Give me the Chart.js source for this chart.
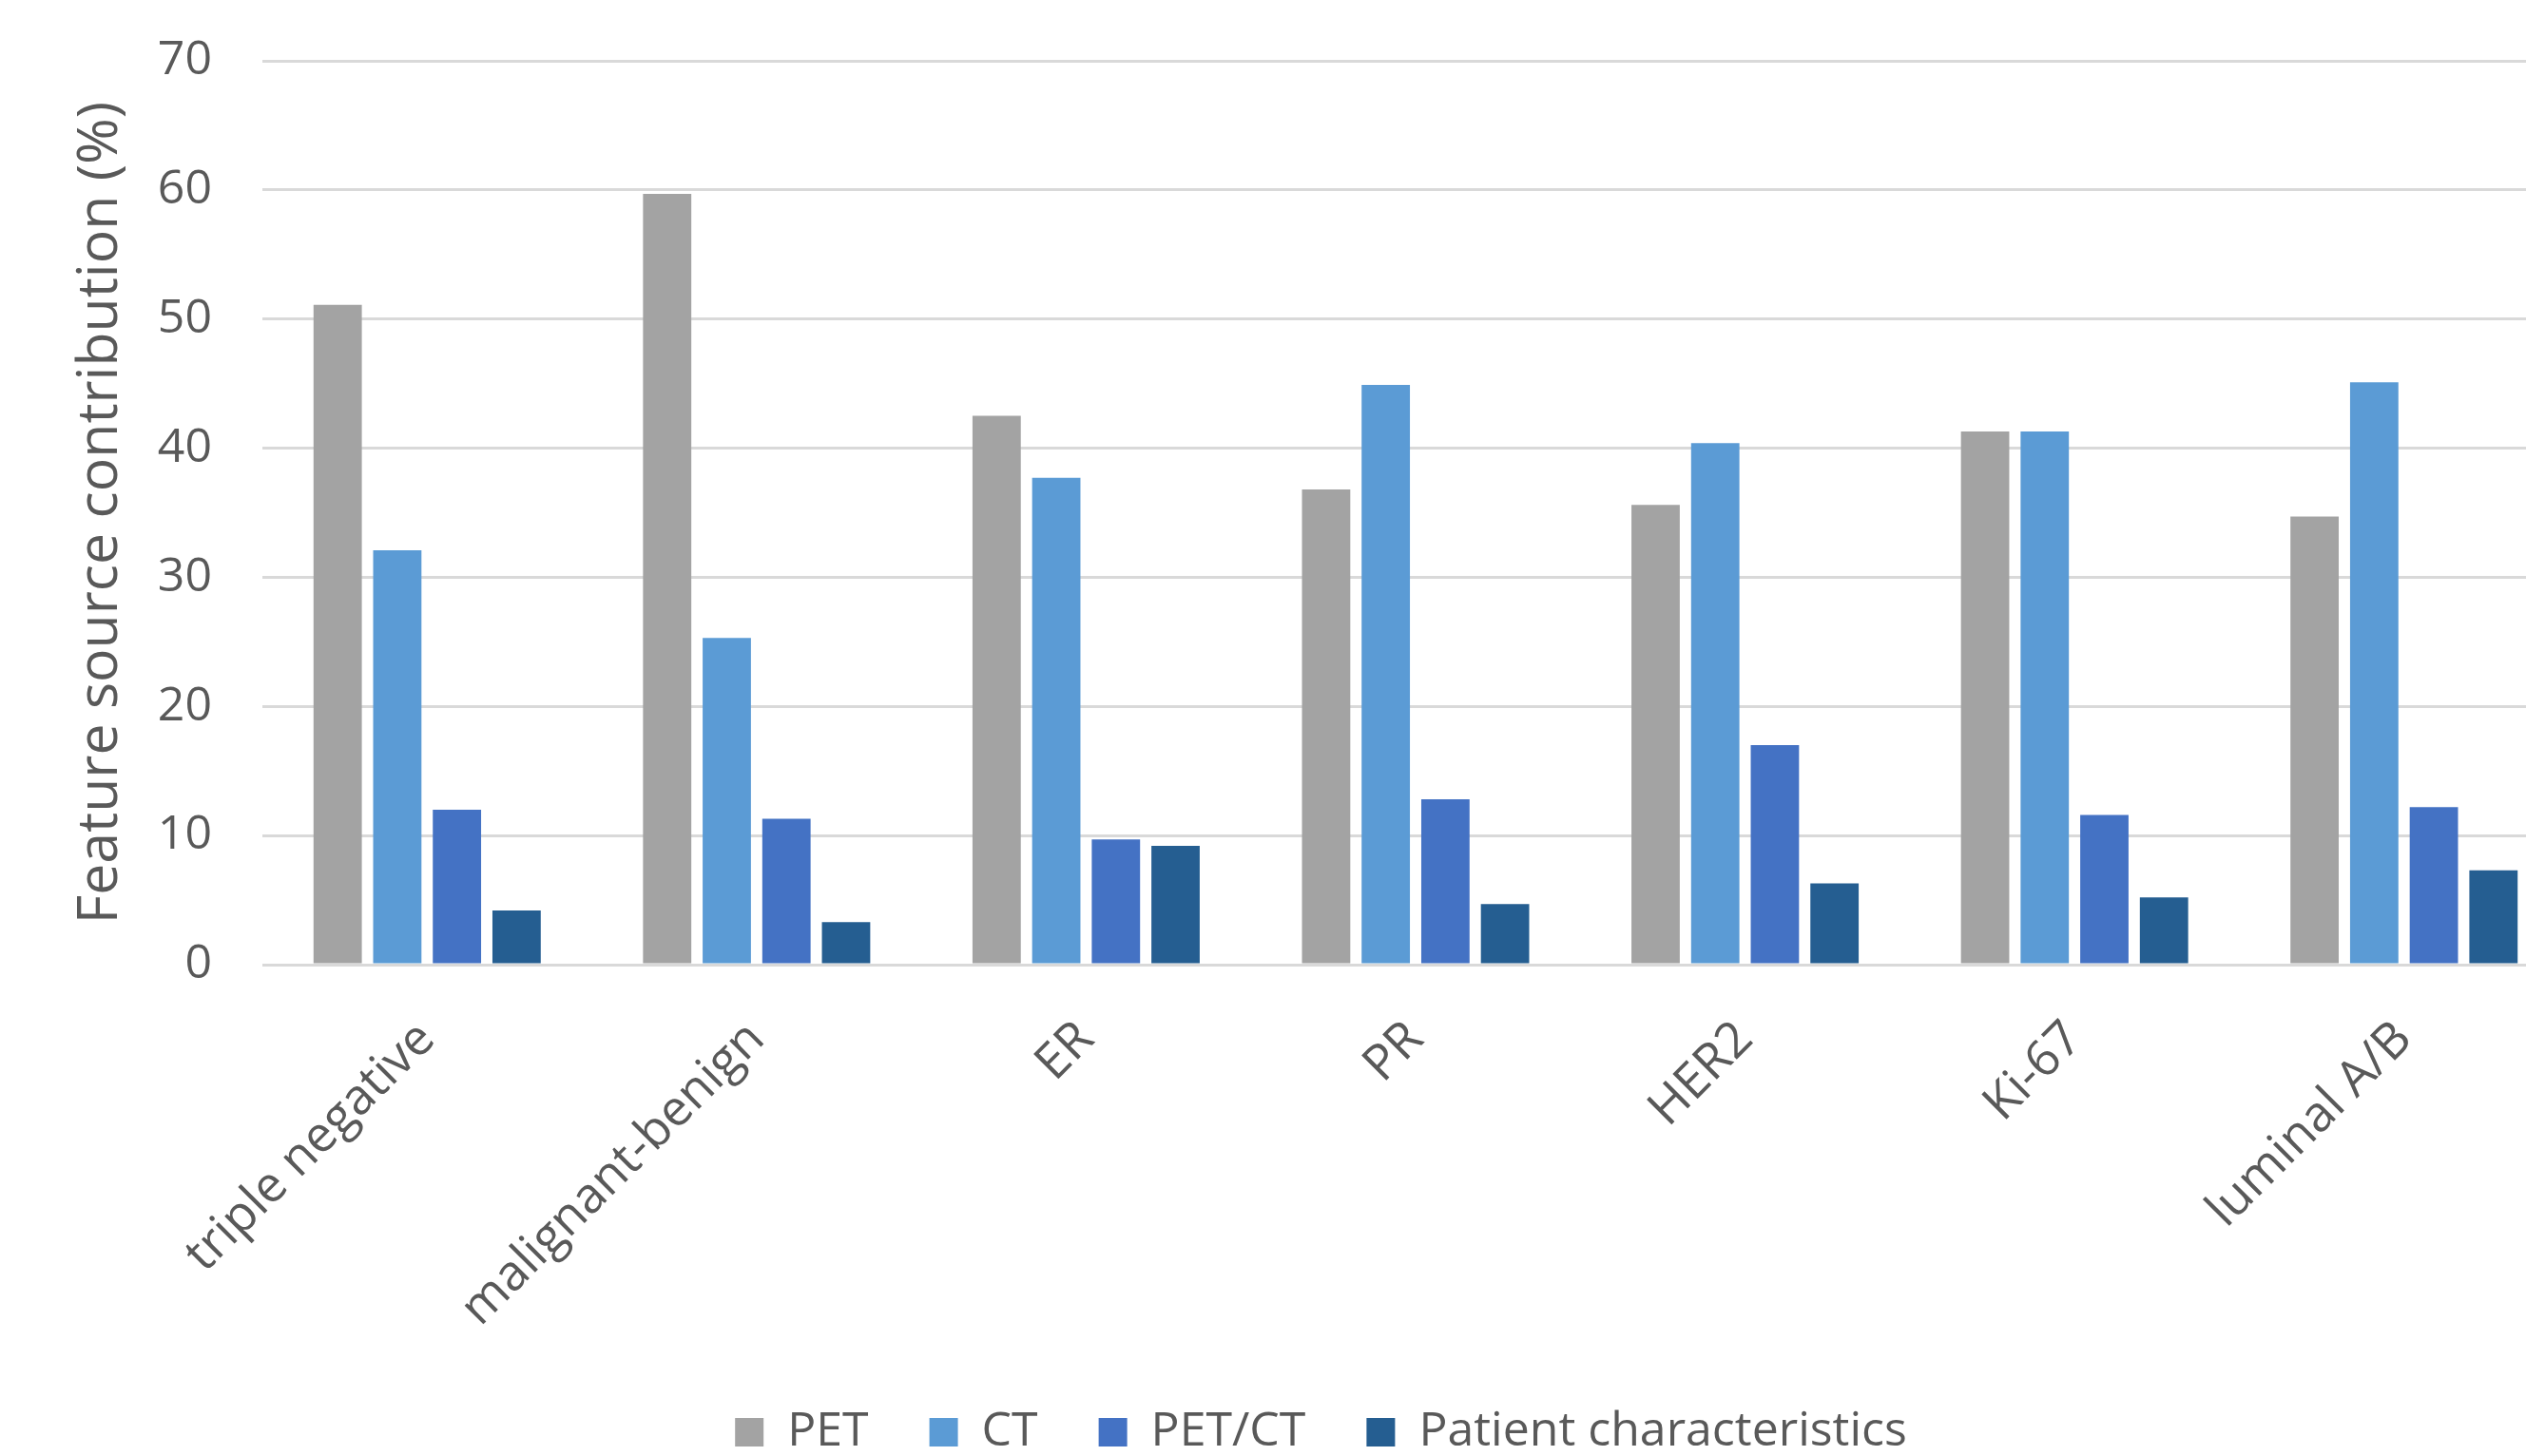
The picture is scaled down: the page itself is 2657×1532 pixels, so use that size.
<!DOCTYPE html>
<html><head><meta charset="utf-8">
<script src="https://cdn.jsdelivr.net/npm/chart.js@4/dist/chart.umd.min.js"></script>
<style>
html,body{margin:0;padding:0;background:#fff;overflow:hidden;width:2657px;height:1532px;}
#wrap{position:absolute;left:0;top:0;width:2702px;height:1542px;}
</style></head><body>
<div id="wrap"><canvas id="c" width="2702" height="1542" style="width:2702px;height:1542px"></canvas></div>
<script>
const categories = ['triple negative','malignant-benign','ER','PR','HER2','Ki-67','luminal A/B'];
const seriesNames = ['PET','CT','PET/CT','Patient characteristics'];
const petValues = [51.1, 59.7, 42.5, 36.8, 35.6, 41.3, 34.7];
const ctValues = [32.1, 25.3, 37.7, 44.9, 40.4, 41.3, 45.1];
const petCtValues = [12.0, 11.3, 9.7, 12.8, 17.0, 11.6, 12.2];
const patientValues = [4.2, 3.3, 9.2, 4.7, 6.3, 5.2, 7.3];
const yTicks = [0, 10, 20, 30, 40, 50, 60, 70];
const yTitle = 'Feature source contribution (%)';

const colors = ['#a3a3a3', '#5b9bd5', '#4472c4', '#255e91'];
const seriesValues = [petValues, ctValues, petCtValues, patientValues];
const FONT = "'Open Sans', 'Noto Sans', sans-serif";
const TXT = '#595959';

new Chart(document.getElementById('c'), {
  type: 'bar',
  data: {
    labels: categories,
    datasets: seriesNames.map((n, i) => ({
      label: n,
      data: seriesValues[i],
      backgroundColor: colors[i],
      borderWidth: 0,
      categoryPercentage: 0.724,
      barPercentage: 0.81
    }))
  },
  options: {
    responsive: false,
    animation: false,
    devicePixelRatio: 1,
    layout: { padding: { left: 77, top: 64, right: 0, bottom: 0 } },
    plugins: {
      tooltip: { enabled: false },
      legend: {
        position: 'bottom',
        labels: {
          boxWidth: 30, boxHeight: 30, padding: 64,
          color: TXT,
          font: { family: FONT, size: 50 }
        }
      }
    },
    scales: {
      x: {
        grid: { display: false },
        border: { display: false },
        ticks: {
          color: TXT, font: { family: FONT, size: 52 },
          minRotation: 45, maxRotation: 45, autoSkip: false, padding: 40
        },
        afterFit: s => { s.height = 403; }
      },
      y: {
        min: 0, max: 70,
        afterBuildTicks: s => { s.ticks = yTicks.map(v => ({ value: v })); },
        grid: { color: '#d9d9d9', lineWidth: 3, drawTicks: true, tickLength: 33, tickColor: 'rgba(0,0,0,0)' },
        border: { display: false },
        ticks: { color: TXT, font: { family: FONT, size: 50 }, padding: 20 },
        title: {
          display: true, text: yTitle, color: TXT,
          font: { family: FONT, size: 59, lineHeight: 1.0 }, padding: 0
        },
        afterFit: s => { s.width = 199; }
      }
    }
  }
});
</script>
</body></html>
